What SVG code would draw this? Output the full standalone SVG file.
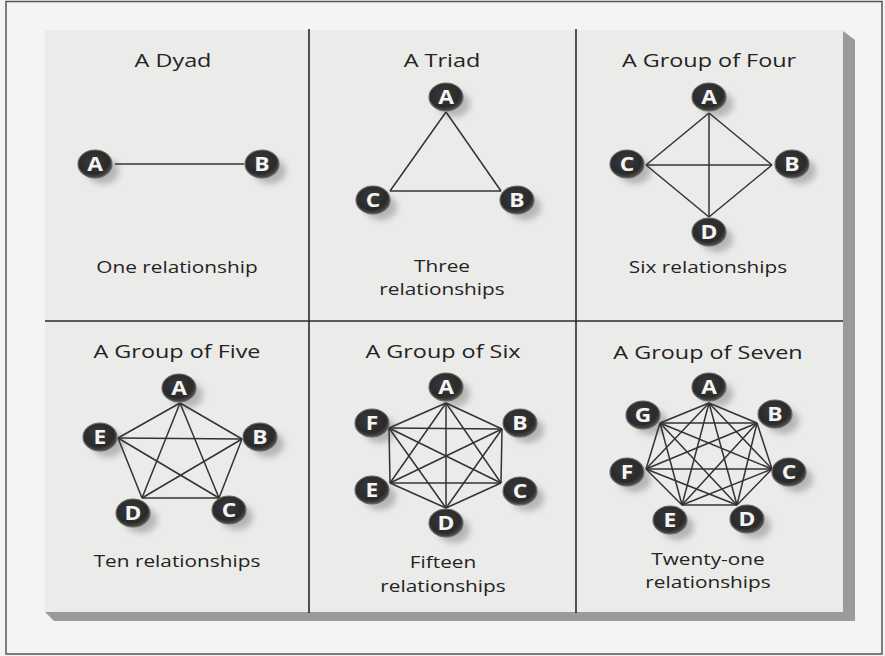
<svg xmlns="http://www.w3.org/2000/svg" width="885" height="656" viewBox="0 0 885 656">
<style>
.t{font-family:"Open Sans","Liberation Sans",sans-serif;fill:#232323;text-anchor:middle}
.title{font-size:18px}
.lab{font-size:16px}
.nl{font-family:"Open Sans","Liberation Sans",sans-serif;font-weight:bold;font-size:19px;fill:#f4f4f4;text-anchor:middle}
.disc{fill:url(#g);stroke:#6a6a6a;stroke-width:1.2}
.sh{fill:#8a8a8a;opacity:.55;filter:url(#blur)}
.div{stroke:#2a2a2a;stroke-width:1.6;fill:none}
#connectors line{stroke:#333;stroke-width:1.5}
</style>
<defs>
<radialGradient id="g" cx="0.45" cy="0.4" r="0.6">
<stop offset="0" stop-color="#3a3a3a"/>
<stop offset="0.75" stop-color="#2a2a2a"/>
<stop offset="1" stop-color="#505050"/>
</radialGradient>
<filter id="blur" x="-50%" y="-50%" width="200%" height="200%"><feGaussianBlur stdDeviation="3"/></filter>
<filter id="noise" x="0" y="0" width="100%" height="100%">
<feTurbulence type="fractalNoise" baseFrequency="0.9" numOctaves="1" seed="3"/>
<feColorMatrix values="0 0 0 0 0.35  0 0 0 0 0.35  0 0 0 0 0.35  0 0 0 0.9 0"/>
<feComposite in2="SourceGraphic" operator="in"/>
</filter>
</defs>
<rect width="885" height="656" fill="#f4f4f2"/>
<rect x="6" y="1.5" width="876" height="652.5" fill="none" stroke="#555" stroke-width="1.5"/>
<g id="panel">
<rect x="45" y="30" width="798" height="583" fill="#ebebe9"/>
<polygon points="843,31 855,40 855,621 843,613" fill="#9a9a9a"/>
<polygon points="45,612 843,612 855,621 54,621" fill="#9a9a9a"/>
<line class="div" x1="309" y1="29" x2="309" y2="613"/>
<line class="div" x1="576" y1="29" x2="576" y2="613"/>
<line class="div" x1="45" y1="321" x2="843" y2="321"/>
</g>
<g id="labels">
<text class="t title" transform="translate(173,67) scale(1.3,1)">A Dyad</text>
<text class="t title" transform="translate(442,67) scale(1.3,1)">A Triad</text>
<text class="t title" transform="translate(709,67) scale(1.3,1)">A Group of Four</text>
<text class="t title" transform="translate(177,358) scale(1.3,1)">A Group of Five</text>
<text class="t title" transform="translate(443,358) scale(1.3,1)">A Group of Six</text>
<text class="t title" transform="translate(708,359) scale(1.3,1)">A Group of Seven</text>
<text class="t lab" transform="translate(177,273) scale(1.3,1)">One relationship</text>
<text class="t lab" transform="translate(442,272) scale(1.3,1)">Three</text>
<text class="t lab" transform="translate(442,295) scale(1.3,1)">relationships</text>
<text class="t lab" transform="translate(708,273) scale(1.3,1)">Six relationships</text>
<text class="t lab" transform="translate(177,567) scale(1.3,1)">Ten relationships</text>
<text class="t lab" transform="translate(443,568) scale(1.3,1)">Fifteen</text>
<text class="t lab" transform="translate(443,592) scale(1.3,1)">relationships</text>
<text class="t lab" transform="translate(708,565) scale(1.3,1)">Twenty-one</text>
<text class="t lab" transform="translate(708,588) scale(1.3,1)">relationships</text>
</g>
<g id="shadows">
<ellipse class="sh" cx="103" cy="171" rx="16" ry="13"/>
<ellipse class="sh" cx="270" cy="171" rx="16" ry="13"/>
<ellipse class="sh" cx="454" cy="104" rx="16" ry="13"/>
<ellipse class="sh" cx="525" cy="207" rx="16" ry="13"/>
<ellipse class="sh" cx="381" cy="207" rx="16" ry="13"/>
<ellipse class="sh" cx="717" cy="104" rx="16" ry="13"/>
<ellipse class="sh" cx="800" cy="171" rx="16" ry="13"/>
<ellipse class="sh" cx="635" cy="171" rx="16" ry="13"/>
<ellipse class="sh" cx="717" cy="239" rx="16" ry="13"/>
<ellipse class="sh" cx="187" cy="395" rx="16" ry="13"/>
<ellipse class="sh" cx="268" cy="444" rx="16" ry="13"/>
<ellipse class="sh" cx="237" cy="517" rx="16" ry="13"/>
<ellipse class="sh" cx="141" cy="520" rx="16" ry="13"/>
<ellipse class="sh" cx="108" cy="444" rx="16" ry="13"/>
<ellipse class="sh" cx="454" cy="394" rx="16" ry="13"/>
<ellipse class="sh" cx="528" cy="430" rx="16" ry="13"/>
<ellipse class="sh" cx="528" cy="498" rx="16" ry="13"/>
<ellipse class="sh" cx="454" cy="530" rx="16" ry="13"/>
<ellipse class="sh" cx="380" cy="497" rx="16" ry="13"/>
<ellipse class="sh" cx="380" cy="430" rx="16" ry="13"/>
<ellipse class="sh" cx="717" cy="394" rx="16" ry="13"/>
<ellipse class="sh" cx="783" cy="421" rx="16" ry="13"/>
<ellipse class="sh" cx="797" cy="479" rx="16" ry="13"/>
<ellipse class="sh" cx="755" cy="526" rx="16" ry="13"/>
<ellipse class="sh" cx="678" cy="527" rx="16" ry="13"/>
<ellipse class="sh" cx="635" cy="479" rx="16" ry="13"/>
<ellipse class="sh" cx="651" cy="422" rx="16" ry="13"/>
</g>
<g id="connectors">
<line x1="115" y1="164" x2="244" y2="164"/>
<line x1="446" y1="112" x2="501" y2="191"/>
<line x1="446" y1="112" x2="390" y2="191"/>
<line x1="390" y1="191" x2="501" y2="191"/>
<line x1="709" y1="113" x2="772" y2="165"/>
<line x1="709" y1="113" x2="646" y2="165"/>
<line x1="709" y1="113" x2="709" y2="217"/>
<line x1="646" y1="165" x2="772" y2="165"/>
<line x1="646" y1="165" x2="709" y2="217"/>
<line x1="772" y1="165" x2="709" y2="217"/>
<line x1="180" y1="403" x2="242" y2="439"/>
<line x1="180" y1="403" x2="219" y2="498"/>
<line x1="180" y1="403" x2="142" y2="498"/>
<line x1="180" y1="403" x2="118" y2="438"/>
<line x1="242" y1="439" x2="219" y2="498"/>
<line x1="242" y1="439" x2="142" y2="498"/>
<line x1="242" y1="439" x2="118" y2="438"/>
<line x1="219" y1="498" x2="142" y2="498"/>
<line x1="219" y1="498" x2="118" y2="438"/>
<line x1="142" y1="498" x2="118" y2="438"/>
<line x1="446" y1="403" x2="502" y2="429"/>
<line x1="446" y1="403" x2="501" y2="483"/>
<line x1="446" y1="403" x2="446" y2="508"/>
<line x1="446" y1="403" x2="390" y2="483"/>
<line x1="446" y1="403" x2="389" y2="428"/>
<line x1="502" y1="429" x2="501" y2="483"/>
<line x1="502" y1="429" x2="446" y2="508"/>
<line x1="502" y1="429" x2="390" y2="483"/>
<line x1="502" y1="429" x2="389" y2="428"/>
<line x1="501" y1="483" x2="446" y2="508"/>
<line x1="501" y1="483" x2="390" y2="483"/>
<line x1="501" y1="483" x2="389" y2="428"/>
<line x1="446" y1="508" x2="390" y2="483"/>
<line x1="446" y1="508" x2="389" y2="428"/>
<line x1="390" y1="483" x2="389" y2="428"/>
<line x1="709" y1="403" x2="757" y2="423"/>
<line x1="709" y1="403" x2="772" y2="469"/>
<line x1="709" y1="403" x2="737" y2="505"/>
<line x1="709" y1="403" x2="682" y2="505"/>
<line x1="709" y1="403" x2="646" y2="469"/>
<line x1="709" y1="403" x2="660" y2="423"/>
<line x1="757" y1="423" x2="772" y2="469"/>
<line x1="757" y1="423" x2="737" y2="505"/>
<line x1="757" y1="423" x2="682" y2="505"/>
<line x1="757" y1="423" x2="646" y2="469"/>
<line x1="757" y1="423" x2="660" y2="423"/>
<line x1="772" y1="469" x2="737" y2="505"/>
<line x1="772" y1="469" x2="682" y2="505"/>
<line x1="772" y1="469" x2="646" y2="469"/>
<line x1="772" y1="469" x2="660" y2="423"/>
<line x1="737" y1="505" x2="682" y2="505"/>
<line x1="737" y1="505" x2="646" y2="469"/>
<line x1="737" y1="505" x2="660" y2="423"/>
<line x1="682" y1="505" x2="646" y2="469"/>
<line x1="682" y1="505" x2="660" y2="423"/>
<line x1="646" y1="469" x2="660" y2="423"/>
</g>
<g id="dyad-A"><ellipse class="disc" cx="95" cy="164" rx="17" ry="14"/><text class="nl" transform="translate(95,171) scale(1.2,1)">A</text></g>
<g id="dyad-B"><ellipse class="disc" cx="262" cy="164" rx="17" ry="14"/><text class="nl" transform="translate(262,171) scale(1.2,1)">B</text></g>
<g id="triad-A"><ellipse class="disc" cx="446" cy="97" rx="17" ry="14"/><text class="nl" transform="translate(446,104) scale(1.2,1)">A</text></g>
<g id="triad-B"><ellipse class="disc" cx="517" cy="200" rx="17" ry="14"/><text class="nl" transform="translate(517,207) scale(1.2,1)">B</text></g>
<g id="triad-C"><ellipse class="disc" cx="373" cy="200" rx="17" ry="14"/><text class="nl" transform="translate(373,207) scale(1.2,1)">C</text></g>
<g id="four-A"><ellipse class="disc" cx="709" cy="97" rx="17" ry="14"/><text class="nl" transform="translate(709,104) scale(1.2,1)">A</text></g>
<g id="four-B"><ellipse class="disc" cx="792" cy="164" rx="17" ry="14"/><text class="nl" transform="translate(792,171) scale(1.2,1)">B</text></g>
<g id="four-C"><ellipse class="disc" cx="627" cy="164" rx="17" ry="14"/><text class="nl" transform="translate(627,171) scale(1.2,1)">C</text></g>
<g id="four-D"><ellipse class="disc" cx="709" cy="232" rx="17" ry="14"/><text class="nl" transform="translate(709,239) scale(1.2,1)">D</text></g>
<g id="five-A"><ellipse class="disc" cx="179" cy="388" rx="17" ry="14"/><text class="nl" transform="translate(179,395) scale(1.2,1)">A</text></g>
<g id="five-B"><ellipse class="disc" cx="260" cy="437" rx="17" ry="14"/><text class="nl" transform="translate(260,444) scale(1.2,1)">B</text></g>
<g id="five-C"><ellipse class="disc" cx="229" cy="510" rx="17" ry="14"/><text class="nl" transform="translate(229,517) scale(1.2,1)">C</text></g>
<g id="five-D"><ellipse class="disc" cx="133" cy="513" rx="17" ry="14"/><text class="nl" transform="translate(133,520) scale(1.2,1)">D</text></g>
<g id="five-E"><ellipse class="disc" cx="100" cy="437" rx="17" ry="14"/><text class="nl" transform="translate(100,444) scale(1.2,1)">E</text></g>
<g id="six-A"><ellipse class="disc" cx="446" cy="387" rx="17" ry="14"/><text class="nl" transform="translate(446,394) scale(1.2,1)">A</text></g>
<g id="six-B"><ellipse class="disc" cx="520" cy="423" rx="17" ry="14"/><text class="nl" transform="translate(520,430) scale(1.2,1)">B</text></g>
<g id="six-C"><ellipse class="disc" cx="520" cy="491" rx="17" ry="14"/><text class="nl" transform="translate(520,498) scale(1.2,1)">C</text></g>
<g id="six-D"><ellipse class="disc" cx="446" cy="523" rx="17" ry="14"/><text class="nl" transform="translate(446,530) scale(1.2,1)">D</text></g>
<g id="six-E"><ellipse class="disc" cx="372" cy="490" rx="17" ry="14"/><text class="nl" transform="translate(372,497) scale(1.2,1)">E</text></g>
<g id="six-F"><ellipse class="disc" cx="372" cy="423" rx="17" ry="14"/><text class="nl" transform="translate(372,430) scale(1.2,1)">F</text></g>
<g id="seven-A"><ellipse class="disc" cx="709" cy="387" rx="17" ry="14"/><text class="nl" transform="translate(709,394) scale(1.2,1)">A</text></g>
<g id="seven-B"><ellipse class="disc" cx="775" cy="414" rx="17" ry="14"/><text class="nl" transform="translate(775,421) scale(1.2,1)">B</text></g>
<g id="seven-C"><ellipse class="disc" cx="789" cy="472" rx="17" ry="14"/><text class="nl" transform="translate(789,479) scale(1.2,1)">C</text></g>
<g id="seven-D"><ellipse class="disc" cx="747" cy="519" rx="17" ry="14"/><text class="nl" transform="translate(747,526) scale(1.2,1)">D</text></g>
<g id="seven-E"><ellipse class="disc" cx="670" cy="520" rx="17" ry="14"/><text class="nl" transform="translate(670,527) scale(1.2,1)">E</text></g>
<g id="seven-F"><ellipse class="disc" cx="627" cy="472" rx="17" ry="14"/><text class="nl" transform="translate(627,479) scale(1.2,1)">F</text></g>
<g id="seven-G"><ellipse class="disc" cx="643" cy="415" rx="17" ry="14"/><text class="nl" transform="translate(643,422) scale(1.2,1)">G</text></g>
</svg>
